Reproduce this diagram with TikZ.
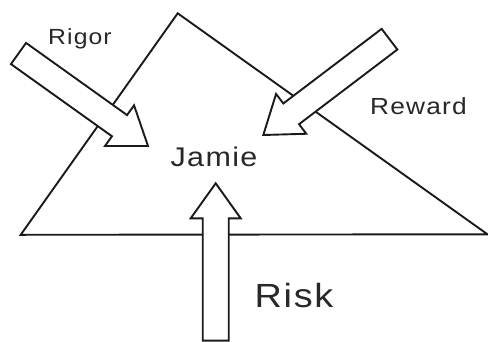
\documentclass[tikz,border=0pt]{standalone}
\usepackage{fontspec}
\newfontfamily\lbl{Liberation Sans}[FakeStretch=1.13, LetterSpace=5]
\usetikzlibrary{calc}
\definecolor{ink}{RGB}{26,26,26}
\definecolor{txt}{RGB}{40,40,40}
\tikzset{
  outline/.style={draw=ink, line width=1.9pt, line join=miter},
  blockarrow/.style={draw=ink, fill=white, line width=1.9pt, line join=miter},
  label/.style={inner sep=0pt, anchor=base, text=txt},
}
% Block arrow from tail centre #1T to tip #1P
\newcommand{\fatarrow}[1]{%
  \coordinate (#1B) at ($(#1P)!35pt!(#1T)$);
  \draw[blockarrow]
    ($(#1T)!13pt!90:(#1P)$) -- ($(#1B)!13pt!90:(#1P)$) --
    ($(#1B)!25pt!90:(#1P)$) -- (#1P) --
    ($(#1B)!25pt!-90:(#1P)$) -- ($(#1B)!13pt!-90:(#1P)$) --
    ($(#1T)!13pt!-90:(#1P)$) -- cycle;
}
\begin{document}
\begin{tikzpicture}[x=1pt, y=-1pt]
  \useasboundingbox (0,0) rectangle (488,341);

  % triangle
  \coordinate (apex) at (177.7,13.3);
  \coordinate (left) at (20.7,234.8);
  \coordinate (right) at (487.5,234.3);
  \draw[outline] (apex) -- (right) -- (left) -- cycle;

  % arrows pointing at the centre
  \coordinate (rigT) at (18.5,53.5);
  \coordinate (rigP) at (148,146);
  \fatarrow{rig}
  \coordinate (rewT) at (389.5,39.2);
  \coordinate (rewP) at (263.3,135);
  \fatarrow{rew}
  \coordinate (riskT) at (215.7,340.6);
  \coordinate (riskP) at (215.7,183.3);
  \fatarrow{risk}

  % labels
  \node[label, font=\lbl\fontsize{21.9}{26}\selectfont] (rigor) at (80,44) {Rigor};
  \node[label, font=\lbl\fontsize{27}{32}\selectfont] (jamie) at (214,166) {Jamie};
  \node[label, font=\lbl\fontsize{23.3}{28}\selectfont] (reward) at (418.5,114.3) {Reward};
  \node[label, font=\lbl\fontsize{33.5}{40}\selectfont] (risk) at (294,307.3) {Risk};
\end{tikzpicture}
\end{document}
